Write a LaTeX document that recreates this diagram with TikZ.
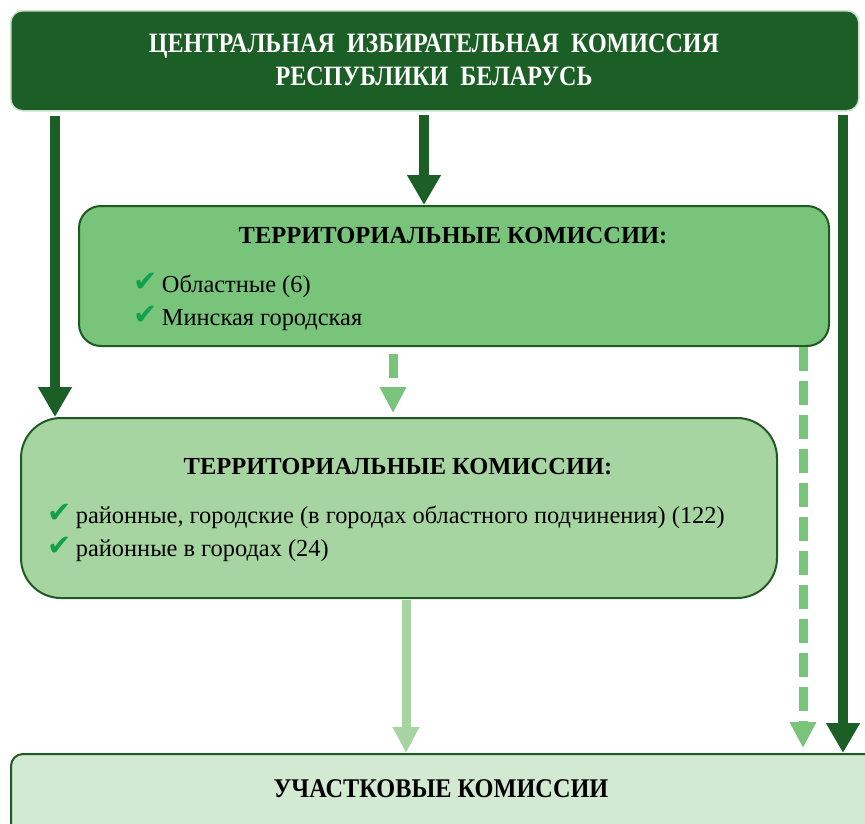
\documentclass[tikz,border=0pt]{standalone}
\usepackage{fontspec}
\setmainfont{Liberation Serif}
\newfontfamily\symfont{DejaVu Sans}
\usetikzlibrary{arrows.meta,calc}
\definecolor{dkgreen}{HTML}{1B5E26}
\definecolor{mdgreen}{HTML}{77C47A}
\definecolor{ltgreen}{HTML}{A6D5A1}
\definecolor{pale}{HTML}{D2E9D2}
\definecolor{edge}{HTML}{1E5A22}
\definecolor{topedge}{HTML}{C9DFC9}
\definecolor{tick}{HTML}{13A04A}
\newcommand{\tk}{\raisebox{1pt}{\scalebox{1.45}{\symfont\fontsize{20}{20}\selectfont\color{tick}\char"2714}}}
\tikzset{
  box/.style={draw=edge, line width=2pt, anchor=north west, inner sep=0pt},
  head/.style={font=\bfseries\fontsize{24.5}{28}\selectfont, text=black},
  item/.style={font=\fontsize{24.4}{33}\selectfont, align=left, anchor=west, text=black},
  darrow/.style={draw=dkgreen, line width=10pt, -{Triangle[width=32pt,length=30pt]}},
  marrow/.style={draw=mdgreen, line width=9pt, dash pattern=on 24pt off 10pt, -{Triangle[width=25pt,length=26pt]}},
  larrow/.style={draw=ltgreen, line width=9pt, -{Triangle[width=25pt,length=26pt]}}
}
\begin{document}
\begin{tikzpicture}[x=1pt,y=-1pt]
\clip (0,0) rectangle (865,823);
\fill[white] (0,0) rectangle (865,823);
% boxes
\node[box, draw=topedge, line width=1.5pt, fill=dkgreen, rounded corners=12pt, minimum width=848pt, minimum height=100pt] (cik) at (10,10) {};
\node[box, fill=mdgreen, rounded corners=22pt, minimum width=750pt, minimum height=140pt] (reg) at (78,205) {};
\node[box, fill=ltgreen, rounded corners=40pt, minimum width=756pt, minimum height=180pt] (dist) at (20,417) {};
\node[box, fill=pale, rounded corners=12pt, minimum width=880pt, minimum height=100pt] (prec) at (10,753) {};
% texts
\node[font=\bfseries\fontsize{28}{33}\selectfont, text=white, align=center] (cikt) at (434,60) {\scalebox{0.86}[1]{ЦЕНТРАЛЬНАЯ\ \ ИЗБИРАТЕЛЬНАЯ\ \ КОМИССИЯ}\\\scalebox{0.86}[1]{РЕСПУБЛИКИ\ \ БЕЛАРУСЬ}};
\node[head] (regt) at (453,236) {ТЕРРИТОРИАЛЬНЫЕ КОМИССИИ:};
\node[item] (regi) at (130,302) {\tk\,Областные (6)\\\tk\,Минская городская};
\node[head] (distt) at (398,467) {ТЕРРИТОРИАЛЬНЫЕ КОМИССИИ:};
\node[item] (disti) at (44,533) {\tk\,районные, городские (в городах областного подчинения) (122)\\\tk\,районные в городах (24)};
\node[font=\bfseries\fontsize{27}{30}\selectfont, text=black] (prect) at (441,789) {\scalebox{0.9}[1]{УЧАСТКОВЫЕ КОМИССИИ}};
% arrow columns
\coordinate (xl) at (55,0);
\coordinate (xc) at (424,0);
\coordinate (xr) at (843,0);
\coordinate (xm) at (393,0);
\coordinate (xd) at (803,0);
\coordinate (xs) at (406,0);
\draw[darrow, shorten <=4pt] (cik.south -| xl) -- (dist.north -| xl);
\draw[darrow, shorten <=3pt] (cik.south -| xc) -- (reg.north -| xc);
\draw[darrow, shorten <=3pt] (cik.south -| xr) -- (prec.north -| xr);
\draw[marrow, shorten <=7pt, shorten >=4pt] (reg.south -| xm) -- (dist.north -| xm);
\draw[marrow, shorten >=5pt] (reg.south -| xd) -- (prec.north -| xd);
\draw[larrow, shorten <=1pt] (dist.south -| xs) -- (prec.north -| xs);
\end{tikzpicture}
\end{document}
